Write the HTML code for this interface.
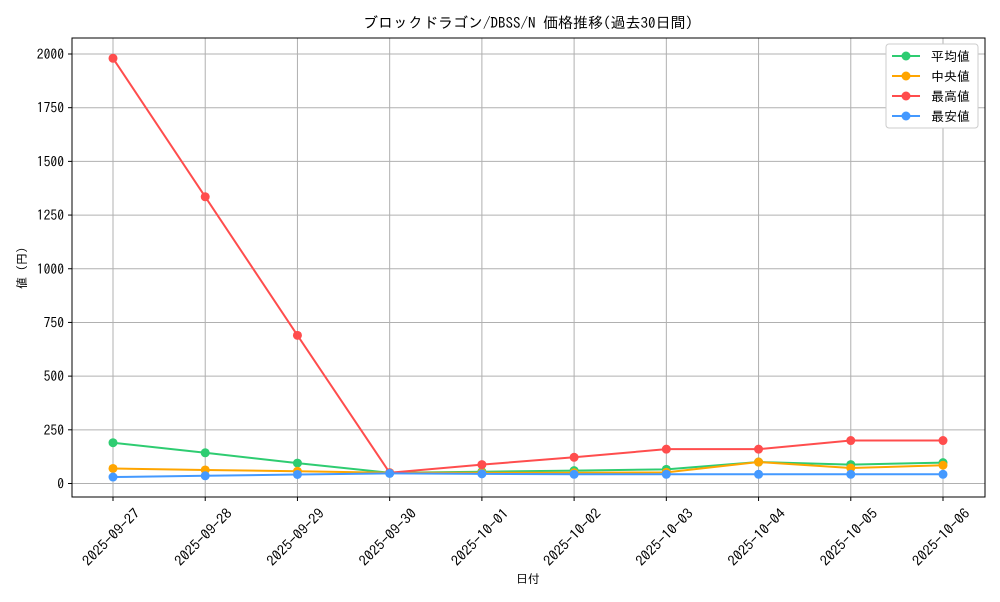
<!DOCTYPE html>
<html><head><meta charset="utf-8"><style>
body{margin:0;background:#fff;font-family:"IPAGothic","Noto Sans CJK JP",sans-serif}
</style></head><body>
<svg id="c" width="1000" height="600" font-family="IPAGothic,'Noto Sans CJK JP',sans-serif">
<rect width="1000" height="600" fill="#fff"/></svg>
<script>
const dates=["2025-09-27","2025-09-28","2025-09-29","2025-09-30","2025-10-01","2025-10-02","2025-10-03","2025-10-04","2025-10-05","2025-10-06"];
const avgVals=[190,143,95,50,55,60,66,100,88,97];
const medVals=[70,63,57,50,50,50,52,100,72,85];
const maxVals=[1980,1335,690,50,88,122,160,160,200,200];
const minVals=[30,36,42,47,45,43,43,43,43,43];
const yTicks=[0,250,500,750,1000,1250,1500,1750,2000];
const seriesNames=["平均値","中央値","最高値","最安値"];
const svg=document.getElementById('c');const NS='http://www.w3.org/2000/svg';
function el(t,a,p){const e=document.createElementNS(NS,t);for(const k in a)e.setAttribute(k,a[k]);(p||svg).appendChild(e);return e;}
const L=72,R=985,T=38,B=497;
const x=i=>113+i*(943-113)/(dates.length-1);
const y=v=>483.5-v*(483.5-54)/2000;
let g;
yTicks.forEach(v=>{
 g=el('line',{x1:L,x2:R,y1:y(v),y2:y(v),stroke:'#b0b0b0','stroke-width':1});
 
 el('line',{x1:L-4,x2:L,y1:y(v),y2:y(v),stroke:'#000'});
 const s=String(v);
 g=el('text',{x:L-8,y:y(v)+5,'text-anchor':'end','font-size':14,textLength:s.length*6.8,lengthAdjust:'spacingAndGlyphs'});g.textContent=s;
 
});
dates.forEach((d,i)=>{
 g=el('line',{x1:x(i),x2:x(i),y1:T,y2:B,stroke:'#b0b0b0','stroke-width':1});
 
 el('line',{x1:x(i),x2:x(i),y1:B,y2:B+4,stroke:'#000'});
 const cx=x(i)-2,cy=537;
 g=el('text',{x:cx,y:cy+5,'text-anchor':'middle','font-size':14,textLength:74,lengthAdjust:'spacingAndGlyphs',transform:`rotate(-45 ${cx} ${cy})`});g.textContent=d;
 
});
g=el('rect',{x:L,y:T,width:R-L,height:B-T,fill:'none',stroke:'#000'});

const series=[[avgVals,'#2ecc71'],[medVals,'#ffa500'],[maxVals,'#ff4d4d'],[minVals,'#4499ff']];
series.forEach(([vals,c],si)=>{
 g=el('polyline',{points:vals.map((v,i)=>x(i)+','+y(v)).join(' '),fill:'none',stroke:c,'stroke-width':2});
 
 vals.forEach((v,i)=>{g=el('circle',{cx:x(i),cy:y(v),r:4.5,fill:c});
  });
});
g=el('text',{x:528,y:28,'text-anchor':'middle','font-size':15});g.textContent='ブロックドラゴン/DBSS/N 価格推移(過去30日間)';

g=el('text',{x:528,y:583,'text-anchor':'middle','font-size':12});g.textContent='日付';

g=el('text',{x:26,y:268,'text-anchor':'middle','font-size':12,transform:'rotate(-90 26 268)'});g.textContent='値 (円)';

g=el('rect',{x:886,y:44,width:92,height:84,rx:3,fill:'#fff',stroke:'#ccc'});

series.forEach(([v,c],i)=>{const yy=56+i*20;
 el('line',{x1:892,x2:920,y1:yy,y2:yy,stroke:c,'stroke-width':2});
 el('circle',{cx:906,cy:yy,r:4.5,fill:c});
 g=el('text',{x:931,y:yy+5,'font-size':13});g.textContent=seriesNames[i];
 
});
</script></body></html>
